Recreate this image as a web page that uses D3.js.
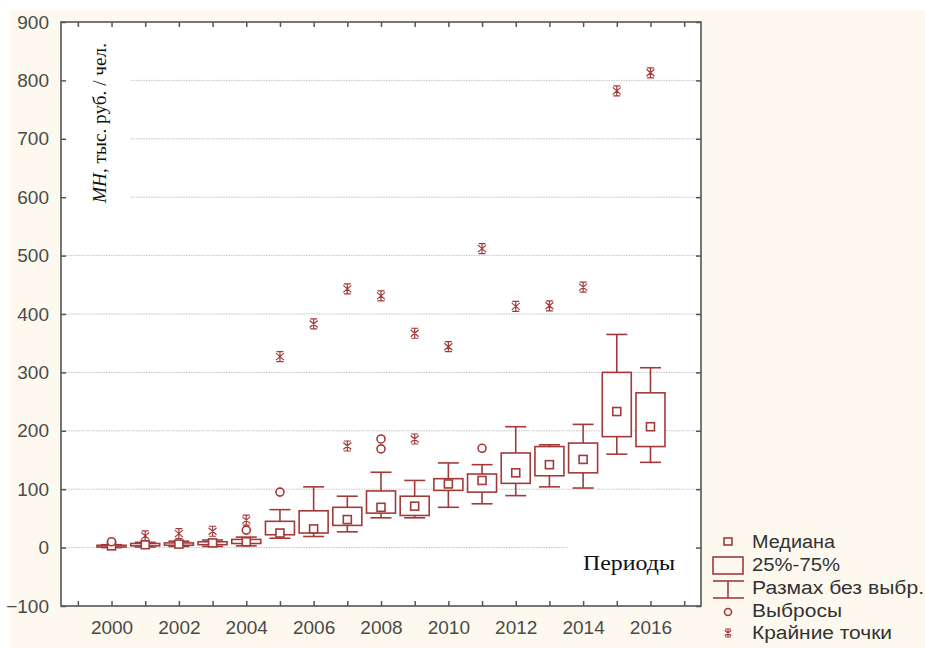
<!DOCTYPE html>
<html><head><meta charset="utf-8">
<script src="https://cdn.jsdelivr.net/npm/d3@7"></script>
<style>
html,body{margin:0;padding:0;background:#fff;}
svg{display:block;}
</style></head>
<body>
<svg id="chart" width="925" height="648"></svg>
<script>
// ---- data ----
const years = [2000,2001,2002,2003,2004,2005,2006,2007,2008,2009,2010,2011,2012,2013,2014,2015,2016];
const medians      = [3,5,6,8,10,25,32,48,69,71,109,115,128,142,151,233,207];
const q1Values     = [1,3,4,5,7,22,25,38,59,55,98,95,110,123,128,190,173];
const q3Values     = [4,7,8,10,14,45,63,69,97,88,118,126,162,173,179,300,265];
const whiskerLow   = [0,1,2,2,3,16,19,27,51,51,69,75,89,104,102,160,146];
const whiskerHigh  = [5,9,11,13,18,65,104,88,129,115,145,142,207,176,211,365,308];
const outlierYears  = [2000,2004,2005,2008,2008,2011];
const outlierValues = [10,30,95,186,169,170];
const extremeYears  = [2001,2002,2003,2004,2005,2006,2007,2007,2008,2009,2009,2010,2011,2012,2013,2014,2015,2016];
const extremeValues = [20,24,28,47,327,383,174,443,431,186,367,344,512,413,414,446,782,813];
const yTicks = [-100,0,100,200,300,400,500,600,700,800,900];
const gridValues = [0,100,200,300,400,500,600,700,800];
const legendLabels = ["Медиана","25%-75%","Размах без выбр.","Выбросы","Крайние точки"];

// ---- setup ----
const svg = d3.select("#chart");
const W = 925, H = 648;
const L = 61, R = 701, T = 22, B = 606;
const col = "#a23a3a";
const sans = "'Liberation Sans', Arial, sans-serif";
const serif = "'Liberation Serif', 'Times New Roman', serif";

svg.append("rect").attr("x",10).attr("y",10).attr("width",W-10).attr("height",H-10).attr("fill","#fdf9ee");
svg.append("rect").attr("x",L).attr("y",T).attr("width",R-L).attr("height",B-T).attr("fill","#fff");

const x = d3.scaleLinear().domain([1998.5,2017.5]).range([L,R]);
const y = d3.scaleLinear().domain([-100,900]).range([B,T]);

// grid
svg.append("g").selectAll("line").data(gridValues).join("line")
  .attr("x1",L).attr("x2",R).attr("y1",d=>y(d)).attr("y2",d=>y(d))
  .attr("stroke","#c4c4c4").attr("stroke-width",1).attr("stroke-dasharray","1.5,1");

// white boxes behind labels
svg.append("rect").attr("x",L+1).attr("y",T+10).attr("width",68).attr("height",190).attr("fill","#fff");
svg.append("rect").attr("x",568).attr("y",538).attr("width",R-568-1).attr("height",50).attr("fill","#fff");

// axes
const allYears = d3.range(1999,2018);
const axB = svg.append("g").attr("transform",`translate(0,${B})`)
  .call(d3.axisBottom(x).tickValues(allYears).tickSize(-5).tickPadding(15)
        .tickFormat(d => (d%2===0 && d>=2000 && d<=2016) ? String(d) : ""));
const axT = svg.append("g").attr("transform",`translate(0,${T})`)
  .call(d3.axisTop(x).tickValues(allYears).tickSize(-5).tickFormat(""));
const axLft = svg.append("g").attr("transform",`translate(${L},0)`)
  .call(d3.axisLeft(y).tickValues(yTicks).tickSize(-5).tickPadding(12));
const axRgt = svg.append("g").attr("transform",`translate(${R},0)`)
  .call(d3.axisRight(y).tickValues(yTicks).tickSize(-5).tickFormat(""));
[axB,axT,axLft,axRgt].forEach(g=>{
  g.select(".domain").remove();
  g.selectAll(".tick line").attr("stroke","#555").attr("stroke-width",1.5);
  g.selectAll(".tick text").attr("font-family",sans).attr("font-size",19).attr("fill","#4a4a4a");
});
axB.selectAll(".tick text").attr("dy","0.71em");

// frame
svg.append("rect").attr("x",L).attr("y",T).attr("width",R-L).attr("height",B-T)
  .attr("fill","none").attr("stroke","#555").attr("stroke-width",1.6);

// labels
const yl = svg.append("text").attr("transform",`translate(106,203) rotate(-90)`)
  .attr("font-family",serif).attr("font-size",18).attr("fill","#111")
  .attr("textLength",160).attr("lengthAdjust","spacingAndGlyphs");
yl.append("tspan").attr("font-style","italic").text("МН");
yl.append("tspan").text(", тыс. руб. / чел.");
svg.append("text").attr("x",583).attr("y",570)
  .attr("font-family",serif).attr("font-size",20).attr("fill","#111")
  .attr("textLength",92).attr("lengthAdjust","spacingAndGlyphs").text("Периоды");

// boxes
const bw = 29, cw = 21, ms = 8;
const g = svg.append("g").attr("stroke",col).attr("stroke-width",1.6).attr("fill","none");
const idx = d3.range(years.length);
g.selectAll(".wh").data(idx).join("line")
  .attr("x1",i=>x(years[i])).attr("x2",i=>x(years[i]))
  .attr("y1",i=>y(whiskerLow[i])).attr("y2",i=>y(whiskerHigh[i]));
g.selectAll(".cap1").data(idx).join("line")
  .attr("x1",i=>x(years[i])-cw/2).attr("x2",i=>x(years[i])+cw/2)
  .attr("y1",i=>y(whiskerHigh[i])).attr("y2",i=>y(whiskerHigh[i]));
g.selectAll(".cap2").data(idx).join("line")
  .attr("x1",i=>x(years[i])-cw/2).attr("x2",i=>x(years[i])+cw/2)
  .attr("y1",i=>y(whiskerLow[i])).attr("y2",i=>y(whiskerLow[i]));
g.selectAll(".box").data(idx).join("rect")
  .attr("x",i=>x(years[i])-bw/2).attr("width",bw)
  .attr("y",i=>y(q3Values[i])).attr("height",i=>Math.max(1,y(q1Values[i])-y(q3Values[i])))
  .attr("fill","#fff");
g.selectAll(".med").data(idx).join("rect")
  .attr("x",i=>x(years[i])-ms/2).attr("y",i=>y(medians[i])-ms/2)
  .attr("width",ms).attr("height",ms).attr("fill","#fff");

// outliers
g.selectAll(".out").data(d3.range(outlierYears.length)).join("circle")
  .attr("cx",i=>x(outlierYears[i])).attr("cy",i=>y(outlierValues[i])).attr("r",4).attr("fill","#fff");

// extremes (asterisks)
function star(sel, cx, cy, s){
  const h = s/2;
  const p = `M${cx},${cy-h}V${cy+h}M${cx-h*0.8},${cy-h*0.7}L${cx+h*0.8},${cy+h*0.7}M${cx+h*0.8},${cy-h*0.7}L${cx-h*0.8},${cy+h*0.7}M${cx-h*0.7},${cy-h}H${cx+h*0.7}M${cx-h*0.7},${cy+h}H${cx+h*0.7}`;
  sel.append("path").attr("d",p).attr("stroke",col).attr("stroke-width",1.2).attr("fill","none");
}
extremeYears.forEach((yr,i)=>star(svg, x(yr), y(extremeValues[i]), 10));

// legend
const lx = 752, sx = 728;
const lb = [548,571,594,617,639];
const lw = [83,88,172,90,140];
const leg = svg.append("g");
leg.selectAll("text").data(legendLabels).join("text")
  .attr("x",lx).attr("y",(d,i)=>lb[i]).attr("font-family",sans).attr("font-size",18).attr("fill","#333")
  .attr("textLength",(d,i)=>lw[i]).attr("lengthAdjust","spacingAndGlyphs").text(d=>d);
const ls = leg.append("g").attr("stroke",col).attr("stroke-width",1.6).attr("fill","none");
ls.append("rect").attr("x",sx-4).attr("y",538).attr("width",8).attr("height",7);
ls.append("rect").attr("x",713).attr("y",557).attr("width",30).attr("height",17);
ls.append("line").attr("x1",713).attr("x2",744).attr("y1",581).attr("y2",581);
ls.append("line").attr("x1",sx).attr("x2",sx).attr("y1",581).attr("y2",598);
ls.append("line").attr("x1",713).attr("x2",744).attr("y1",598).attr("y2",598);
ls.append("circle").attr("cx",sx).attr("cy",612).attr("r",3.5);
star(leg, sx, 633, 8);
</script>
</body></html>
